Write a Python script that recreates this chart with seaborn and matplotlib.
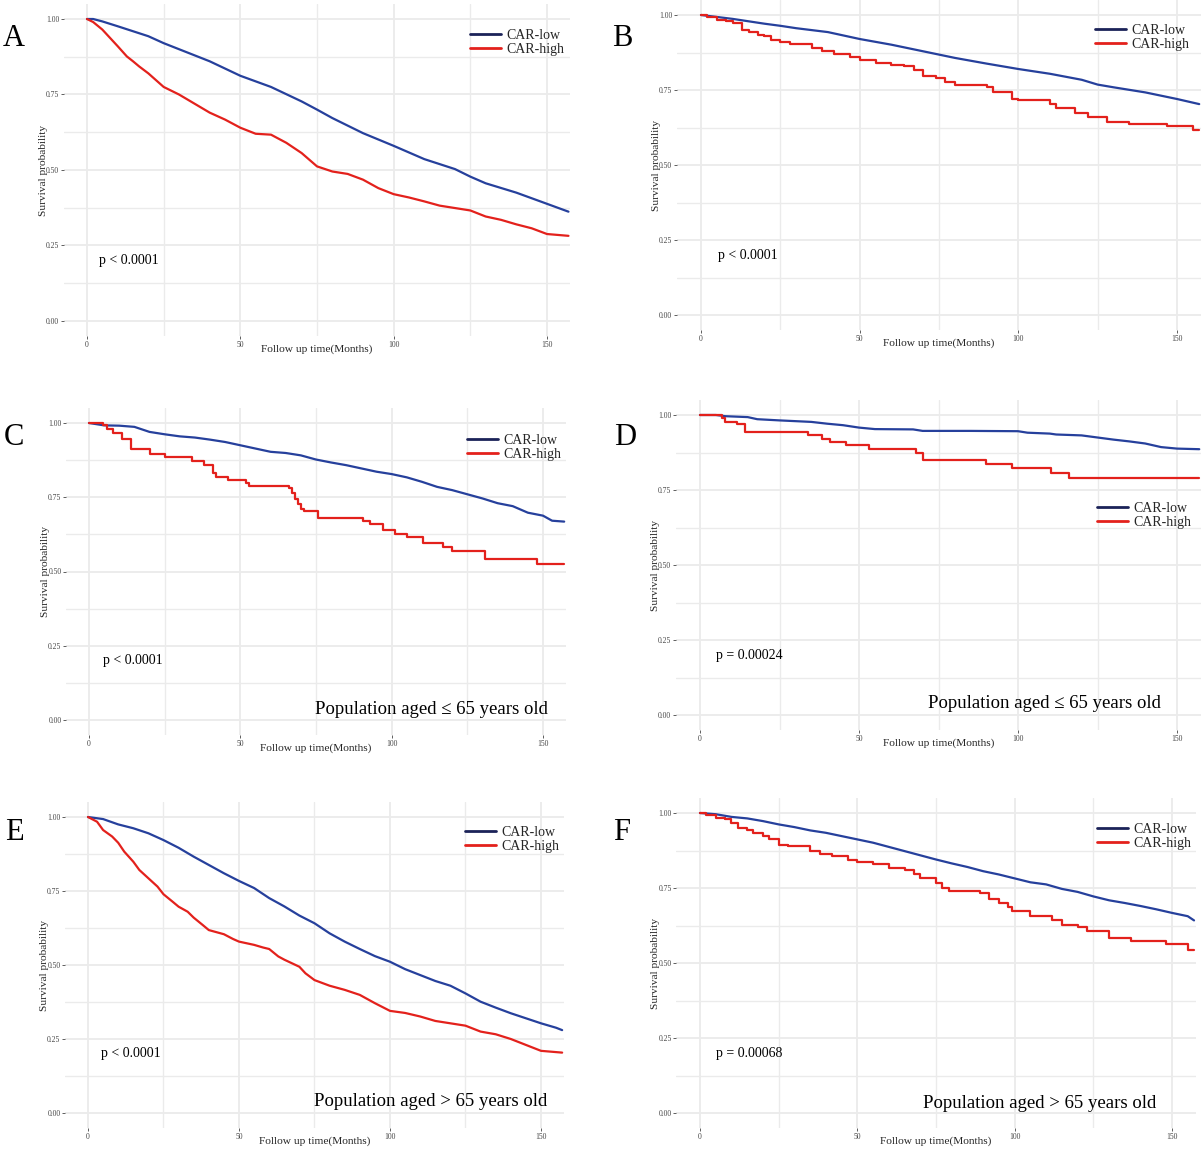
import numpy as np
import pandas as pd
import matplotlib
matplotlib.use("Agg")
import matplotlib.pyplot as plt
import seaborn as sns

# ── Data ──────────────────────────────────────────
a_low_t = [0, 2, 5, 10, 20, 25, 30, 40, 50, 60, 70, 75, 80, 90, 100, 110, 120, 125, 130, 140, 150, 157]
a_low_s = [1.0, 1.0, 0.992, 0.976, 0.943, 0.92, 0.90, 0.86, 0.812, 0.775, 0.727, 0.70, 0.672, 0.622,
           0.58, 0.536, 0.503, 0.478, 0.456, 0.425, 0.388, 0.362]
a_high_t = [0, 2, 5, 10, 13, 15, 17, 20, 25, 30, 35, 40, 45, 50, 55, 60, 65, 70, 75, 80, 85, 90, 95,
            100, 105, 110, 115, 120, 125, 130, 135, 140, 145, 150, 157]
a_high_s = [1.0, 0.99, 0.965, 0.91, 0.876, 0.86, 0.843, 0.82, 0.775, 0.75, 0.72, 0.69, 0.667, 0.64,
            0.62, 0.617, 0.59, 0.556, 0.512, 0.495, 0.487, 0.468, 0.44, 0.42, 0.409, 0.396, 0.382,
            0.374, 0.366, 0.346, 0.335, 0.32, 0.307, 0.288, 0.282]

b_low_t = [0, 10, 20, 25, 30, 40, 50, 60, 70, 75, 80, 90, 100, 110, 120, 125, 130, 140, 150, 157]
b_low_s = [1.0, 0.987, 0.971, 0.964, 0.956, 0.943, 0.92, 0.901, 0.879, 0.868, 0.857, 0.838, 0.82,
           0.804, 0.784, 0.768, 0.759, 0.742, 0.72, 0.703]
b_high_t = [0, 2, 5, 8, 10, 13, 15, 18, 20, 22, 25, 28, 35, 38, 42, 47, 50, 53, 55, 60, 64, 67, 70,
            74, 77, 80, 90, 92, 98, 100, 110, 112, 118, 122, 128, 135, 147, 155, 157]
b_high_s = [1.0, 0.995, 0.984, 0.979, 0.973, 0.951, 0.943, 0.934, 0.929, 0.918, 0.909, 0.903, 0.89,
            0.879, 0.87, 0.86, 0.851, 0.849, 0.84, 0.834, 0.831, 0.818, 0.798, 0.79, 0.776, 0.768,
            0.76, 0.742, 0.72, 0.716, 0.704, 0.69, 0.673, 0.66, 0.642, 0.636, 0.629, 0.618, 0.618]

c_low_t = [0, 5, 10, 15, 20, 25, 30, 35, 40, 45, 50, 55, 60, 65, 70, 75, 80, 85, 90, 95, 100, 105,
           110, 115, 120, 125, 130, 135, 140, 145, 150, 153, 157]
c_low_s = [1.0, 0.992, 0.991, 0.987, 0.97, 0.962, 0.955, 0.951, 0.944, 0.936, 0.925, 0.914, 0.903,
           0.899, 0.891, 0.877, 0.867, 0.858, 0.847, 0.836, 0.828, 0.817, 0.802, 0.785, 0.774, 0.76,
           0.746, 0.73, 0.72, 0.698, 0.688, 0.671, 0.668]
c_high_t = [0, 4.5, 6, 8, 11, 14, 20, 25, 34, 38, 41, 42, 46, 52, 53, 66, 67, 68, 69, 70, 71, 75.5,
            90.5, 93, 97, 101, 105, 110.5, 117, 120, 131, 148, 157]
c_high_s = [1.0, 0.992, 0.981, 0.968, 0.947, 0.914, 0.897, 0.884, 0.872, 0.858, 0.832, 0.819, 0.808,
            0.797, 0.788, 0.780, 0.763, 0.744, 0.727, 0.712, 0.703, 0.681, 0.671, 0.660, 0.640,
            0.626, 0.617, 0.595, 0.584, 0.570, 0.541, 0.526, 0.526]

d_low_t = [0, 5, 8, 15, 18, 25, 35, 40, 45, 50, 55, 67, 70, 85, 100, 103, 110, 112, 120, 125, 130,
           135, 140, 145, 150, 157]
d_low_s = [1.0, 1.0, 0.996, 0.993, 0.986, 0.982, 0.977, 0.971, 0.966, 0.958, 0.953, 0.952, 0.947,
           0.947, 0.946, 0.941, 0.938, 0.935, 0.932, 0.925, 0.918, 0.912, 0.905, 0.893, 0.888, 0.886]
d_high_t = [0, 7, 8, 11.5, 14, 34, 38.5, 41, 46, 53, 68, 70, 90, 98, 110.5, 116, 157]
d_high_s = [1.0, 0.991, 0.978, 0.969, 0.943, 0.932, 0.919, 0.91, 0.899, 0.886, 0.875, 0.849, 0.836,
            0.822, 0.807, 0.79, 0.79]

e_low_t = [0, 5, 10, 15, 20, 25, 30, 35, 40, 45, 50, 55, 60, 65, 70, 75, 80, 85, 90, 95, 100, 105,
           110, 115, 120, 125, 130, 135, 140, 145, 150, 155, 157]
e_low_s = [1.0, 0.993, 0.975, 0.962, 0.945, 0.922, 0.896, 0.866, 0.838, 0.81, 0.784, 0.76, 0.726,
           0.698, 0.667, 0.641, 0.607, 0.579, 0.554, 0.53, 0.511, 0.486, 0.466, 0.446, 0.43, 0.404,
           0.376, 0.356, 0.337, 0.32, 0.303, 0.288, 0.28]
e_high_t = [0, 3, 5, 8, 10, 12, 15, 17, 20, 23, 25, 28, 30, 33, 35, 38, 40, 45, 48, 50, 55, 58, 60,
            63, 65, 70, 72, 75, 80, 85, 90, 95, 100, 105, 110, 115, 120, 125, 130, 135, 140, 145,
            150, 157]
e_high_s = [1.0, 0.984, 0.956, 0.934, 0.913, 0.883, 0.849, 0.821, 0.793, 0.765, 0.739, 0.714, 0.697,
            0.68, 0.66, 0.635, 0.618, 0.604, 0.588, 0.579, 0.568, 0.559, 0.554, 0.529, 0.518, 0.494,
            0.472, 0.449, 0.43, 0.416, 0.399, 0.371, 0.345, 0.338, 0.326, 0.311, 0.303, 0.295,
            0.275, 0.266, 0.25, 0.23, 0.21, 0.204]

f_low_t = [0, 5, 10, 15, 20, 25, 30, 35, 40, 45, 50, 55, 60, 65, 70, 75, 80, 85, 90, 95, 100, 105,
           110, 115, 120, 125, 130, 135, 140, 145, 150, 155, 157]
f_low_s = [1.0, 0.996, 0.987, 0.982, 0.973, 0.962, 0.953, 0.942, 0.934, 0.923, 0.912, 0.901, 0.887,
           0.873, 0.859, 0.845, 0.832, 0.82, 0.806, 0.795, 0.782, 0.769, 0.762, 0.747, 0.737, 0.722,
           0.709, 0.7, 0.69, 0.679, 0.667, 0.656, 0.642]
f_high_t = [0, 2, 5, 8, 10, 12, 15, 17, 20, 22, 25, 28, 35, 38, 42, 47, 50, 55, 60, 65, 68, 70, 75,
            77, 79, 89, 92, 95, 98, 99, 105, 112, 115, 120, 123, 130, 137, 148, 155, 157]
f_high_s = [1.0, 0.993, 0.982, 0.979, 0.968, 0.951, 0.945, 0.934, 0.923, 0.912, 0.895, 0.89, 0.873,
            0.862, 0.857, 0.845, 0.836, 0.829, 0.818, 0.809, 0.798, 0.782, 0.768, 0.751, 0.74,
            0.733, 0.712, 0.701, 0.686, 0.673, 0.657, 0.642, 0.628, 0.619, 0.606, 0.582, 0.573,
            0.562, 0.545, 0.545]

letters = ["A", "B", "C", "D", "E", "F"]
p_texts = ["p < 0.0001", "p < 0.0001", "p < 0.0001", "p = 0.00024", "p < 0.0001", "p = 0.00068"]
subtitles = ["", "", "Population aged \u2264 65 years old", "Population aged \u2264 65 years old",
             "Population aged > 65 years old", "Population aged > 65 years old"]
groups = ["CAR-low", "CAR-high"]

curves = [
    (a_low_t, a_low_s, a_high_t, a_high_s, False),
    (b_low_t, b_low_s, b_high_t, b_high_s, True),
    (c_low_t, c_low_s, c_high_t, c_high_s, True),
    (d_low_t, d_low_s, d_high_t, d_high_s, True),
    (e_low_t, e_low_s, e_high_t, e_high_s, False),
    (f_low_t, f_low_s, f_high_t, f_high_s, True),
]

# ── Layout (pixel positions on a 1203x1150 canvas) ──
W, H = 1203, 1150
# x of t=0, x of t=150, y of S=1, y of S=0
panel_px = [(87, 547, 19, 321), (701, 1177, 15, 315),
            (89, 543, 423, 720), (700, 1177, 415, 715),
            (88, 541, 817, 1113), (700, 1172, 813, 1113)]
legend_px = [(470, 35), (1095, 30), (467, 440), (1097, 508), (465, 832), (1097, 829)]
letter_px = [(14, 38), (622, 38), (14, 438), (625, 438), (14, 833), (622, 833)]
p_pos = [(4, 0.2), (5.4, 0.2), (4.6, 0.2), (5, 0.2), (4.3, 0.2), (5, 0.2)]
sub_pos = [None, None, (151.5, 0.035), (145, 0.04), (152, 0.04), (145, 0.033)]

XLIM = (-7.5, 157.5)
YLIM = (-0.05, 1.05)

sns.set_theme(style="whitegrid")
plt.rcParams["font.family"] = ["Liberation Serif", "DejaVu Serif"]

palette = {"CAR-low": "#26409C", "CAR-high": "#E3211C"}
legend_colors = {"CAR-low": "#1B2258", "CAR-high": "#E3211C"}

fig = plt.figure(figsize=(W / 100, H / 100), dpi=100)

for i in range(6):
    x0, x150, y1, y0 = panel_px[i]
    ppm = (x150 - x0) / 150.0
    ppu = (y0 - y1)
    left = x0 + XLIM[0] * ppm
    right = x0 + XLIM[1] * ppm
    top = y1 - (YLIM[1] - 1) * ppu
    bottom = y0 - YLIM[0] * ppu
    ax = fig.add_axes([left / W, 1 - bottom / H, (right - left) / W, (bottom - top) / H])

    lt, ls, ht, hs, high_steps = curves[i]
    df_low = pd.DataFrame({"time": lt, "surv": ls, "group": "CAR-low"})
    df_high = pd.DataFrame({"time": ht, "surv": hs, "group": "CAR-high"})

    sns.lineplot(data=df_low, x="time", y="surv", color=palette["CAR-low"], lw=1.6,
                 estimator=None, ax=ax, label="CAR-low")
    sns.lineplot(data=df_high, x="time", y="surv", color=palette["CAR-high"], lw=1.6,
                 estimator=None, ax=ax, label="CAR-high",
                 drawstyle="steps-post" if high_steps else "default")

    ax.set_xlim(*XLIM)
    ax.set_ylim(*YLIM)
    ax.set_xticks([0, 50, 100, 150])
    ax.set_xticks([25, 75, 125], minor=True)
    ax.set_yticks([0, 0.25, 0.5, 0.75, 1.0])
    ax.set_yticklabels(["0.00", "0.25", "0.50", "0.75", "1.00"])
    ax.set_yticks([0.125, 0.375, 0.625, 0.875], minor=True)
    ax.grid(which="major", color="#EBEBEB", lw=1.3)
    ax.grid(which="minor", color="#EBEBEB", lw=1.0)
    ax.set_facecolor("white")
    for s in ax.spines.values():
        s.set_visible(False)
    ax.tick_params(which="major", length=2, width=0.6, color="#444444", labelsize=5.5,
                   labelcolor="#444444", pad=1.5)
    ax.tick_params(which="minor", length=0)
    ax.tick_params(axis="x", bottom=True)
    ax.tick_params(axis="y", left=True)

    ax.set_xlabel("Follow up time(Months)", fontsize=8.2, labelpad=-3)
    ax.set_ylabel("Survival probability", fontsize=8.2, labelpad=-1.5)

    lx, ly = legend_px[i]
    handles, labels = ax.get_legend_handles_labels()
    leg = ax.legend(handles, labels, loc="center left",
                    bbox_to_anchor=(lx / W, 1 - (ly + 7.5) / H),
                    bbox_transform=fig.transFigure, frameon=False, borderpad=0, borderaxespad=0,
                    handlelength=2.2, handletextpad=0.4, labelspacing=0.08, fontsize=10)
    for h, lab in zip(leg.legend_handles, labels):
        h.set_color(legend_colors[lab])
        h.set_linewidth(2.0)

    px, py = p_pos[i]
    ax.text(px, py, p_texts[i], fontsize=10, va="center", ha="left", color="black")
    if sub_pos[i] is not None:
        sx, sy = sub_pos[i]
        ax.text(sx, sy, subtitles[i], fontsize=13.5, va="center", ha="right", color="black")

    fx, fy = letter_px[i]
    fig.text(fx / W, 1 - fy / H, letters[i], fontsize=22, ha="center", va="center", color="black")

fig.savefig("out.png", dpi=100, facecolor="white")
